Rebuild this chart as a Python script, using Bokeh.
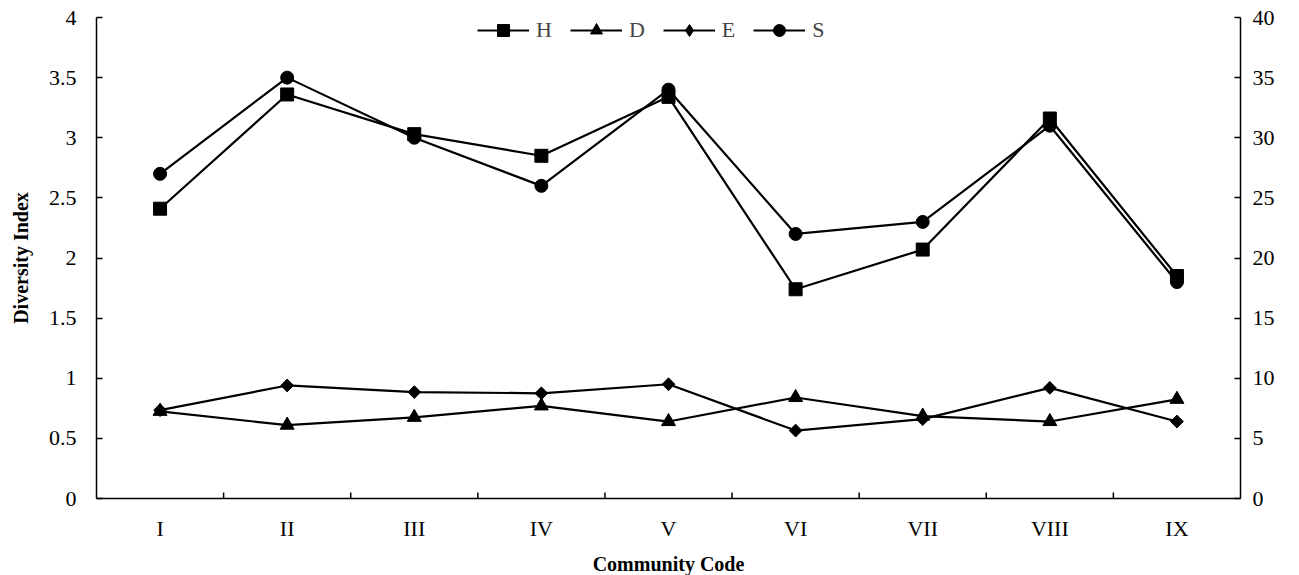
from bokeh.plotting import figure
from bokeh.models import FactorRange, Range1d, LinearAxis, Legend, LegendItem, FixedTicker
from bokeh.embed import file_html
from bokeh.resources import INLINE

categories = ["I", "II", "III", "IV", "V", "VI", "VII", "VIII", "IX"]
H = [2.41, 3.36, 3.03, 2.85, 3.34, 1.74, 2.07, 3.16, 1.85]
D = [0.725, 0.61, 0.675, 0.77, 0.64, 0.84, 0.685, 0.64, 0.825]
E = [0.735, 0.94, 0.885, 0.875, 0.95, 0.565, 0.66, 0.92, 0.64]
S = [27, 35, 30, 26, 34, 22, 23, 31, 18]
left_ticks = [0, 0.5, 1, 1.5, 2, 2.5, 3, 3.5, 4]
right_ticks = [0, 5, 10, 15, 20, 25, 30, 35, 40]

FONT = "Liberation Serif"

p = figure(x_range=FactorRange(*categories, range_padding=0, factor_padding=0),
           y_range=Range1d(0, 4),
           frame_width=1144, frame_height=481, output_backend="svg", toolbar_location=None,
           min_border_left=96, min_border_right=50, min_border_top=17, min_border_bottom=74)
p.extra_y_ranges = {"right": Range1d(0, 40)}
p.outline_line_color = None
p.grid.visible = False

lw = 2.2
rH_l = p.line(categories, H, line_color="black", line_width=lw)
rH_m = p.scatter(categories, H, marker="square", size=13, color="black")
rD_l = p.line(categories, D, line_color="black", line_width=lw)
rD_m = p.scatter(categories, D, marker="triangle", size=14, color="black")
rE_l = p.line(categories, E, line_color="black", line_width=lw)
rE_leg = p.scatter(categories, E, marker="diamond", size=12, color="black")
rE_m = p.scatter(categories, E, marker="square", angle=0.7854, size=9, color="black")
rS_l = p.line(categories, S, line_color="black", line_width=lw, y_range_name="right")
rS_m = p.scatter(categories, S, marker="circle", size=13, color="black", y_range_name="right")

# category-boundary tick marks on the bottom axis (inward)
bounds = list(range(1, len(categories)))
p.scatter(bounds, [0] * len(bounds), marker="dash", angle=1.5708, size=12,
          line_color="black", line_width=1.5)

right_axis = LinearAxis(y_range_name="right", ticker=FixedTicker(ticks=right_ticks))
p.add_layout(right_axis, "right")

p.yaxis[0].ticker = FixedTicker(ticks=left_ticks)
p.yaxis[0].axis_label = "Diversity Index"
p.xaxis.axis_label = "Community Code"

for ax in p.axis:
    ax.axis_line_color = "black"
    ax.axis_line_width = 1.5
    ax.major_tick_line_color = "black"
    ax.major_tick_line_width = 1.5
    ax.major_tick_in = 6
    ax.major_tick_out = 0
    ax.minor_tick_line_color = None
    ax.major_label_text_font = FONT
    ax.major_label_text_font_size = "22px"
    ax.major_label_text_color = "black"
    ax.axis_label_text_font = FONT
    ax.axis_label_text_font_size = "20px"
    ax.axis_label_text_font_style = "bold"
    ax.axis_label_text_color = "black"

p.yaxis[0].major_label_standoff = 20
right_axis.major_label_standoff = 12
p.xaxis.major_label_standoff = 17
p.xaxis.axis_label_standoff = 9
p.yaxis[0].axis_label_standoff = 14
p.xaxis.major_tick_line_color = None

legend = Legend(items=[
    LegendItem(label="H", renderers=[rH_l, rH_m]),
    LegendItem(label="D", renderers=[rD_l, rD_m]),
    LegendItem(label="E", renderers=[rE_l, rE_leg]),
    LegendItem(label="S", renderers=[rS_l, rS_m]),
], orientation="horizontal", location=(381, 453), border_line_color=None,
   background_fill_alpha=0, label_text_font=FONT, label_text_font_size="22px",
   glyph_width=52, glyph_height=30, label_standoff=7, spacing=18, padding=0, margin=0,
   label_width=0, label_height=24)
p.add_layout(legend)

open("out.html", "w").write(file_html(p, INLINE))
